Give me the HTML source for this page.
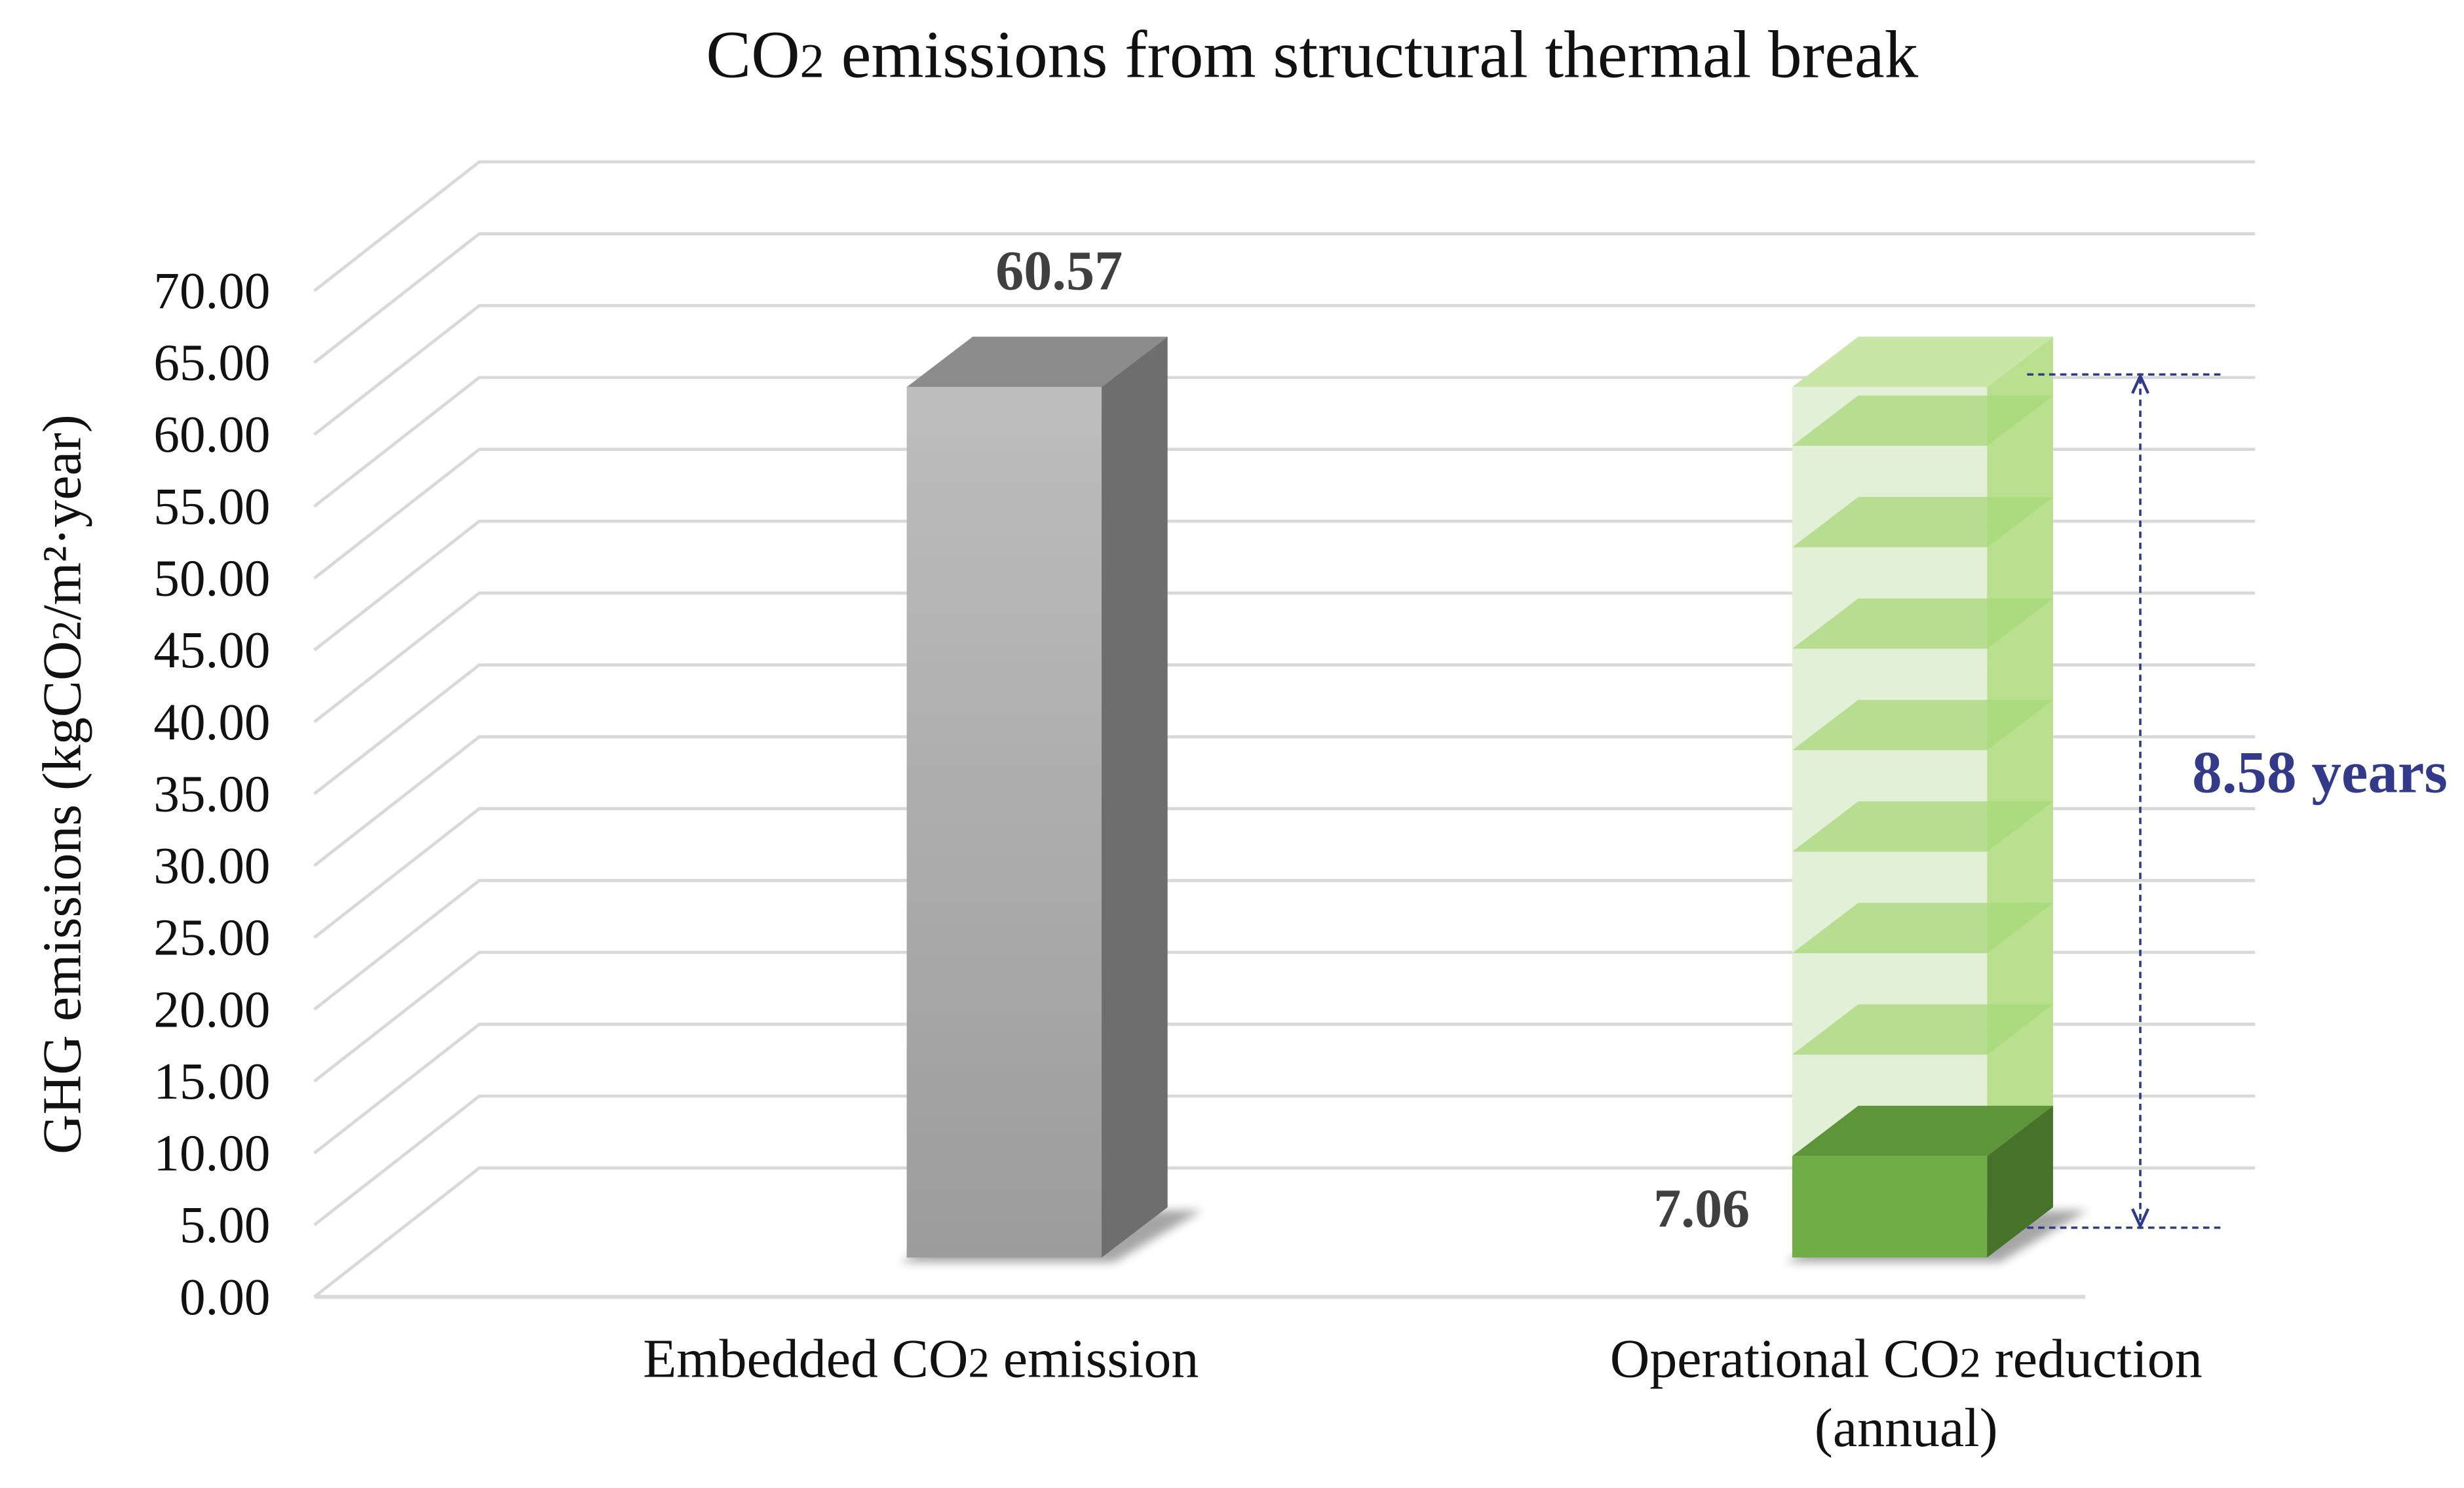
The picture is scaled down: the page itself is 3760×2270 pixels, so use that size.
<!DOCTYPE html>
<html><head><meta charset="utf-8">
<style>
html,body{margin:0;padding:0;background:#fff;}
svg{display:block;}
text{font-family:"Liberation Serif","DejaVu Serif",serif;}
</style></head>
<body>
<svg id="chart" width="3760" height="2270" viewBox="0 0 1568 946.6" preserveAspectRatio="none" xmlns="http://www.w3.org/2000/svg">
  <text x="835" y="49" font-size="43" text-anchor="middle" fill="#111">CO<tspan font-size="31">2</tspan> emissions from structural thermal break</text>
  <g id="grid"></g>
  <g id="ticks"></g>
  <text transform="translate(51,499) rotate(-90)" font-size="35" text-anchor="middle" fill="#111">GHG emissions (kgCO<tspan font-size="26">2</tspan>/m²·year)</text>
  <g id="bars"></g>
  <g id="cats"></g>
  <g id="annot"></g>
</svg>
<script>
const categories = ["Embedded CO2 emission", "Operational CO2 reduction"];
const values = [60.57, 7.06];
const tickValues = [0,5,10,15,20,25,30,35,40,45,50,55,60,65,70];
const tickLabels = ["0.00","5.00","10.00","15.00","20.00","25.00","30.00","35.00","40.00","45.00","50.00","55.00","60.00","65.00","70.00"];
const paybackLabel = "8.58 years";

const NS = "http://www.w3.org/2000/svg";
const K = 9.143;
const frontZero = 825, barZero = 800;
const DX = 105, DY = -82;
const SX = 42, SY = -32;
const x0 = 200, band = 563.5, barW = 124;
function yFront(v){ return frontZero - v*K; }
function yBar(v){ return barZero - v*K; }
function xBar(i){ return x0 + i*band + 377; }
function mk(tag, attrs, parent){ const e=document.createElementNS(NS,tag); for(const k in attrs) e.setAttribute(k,attrs[k]); parent.appendChild(e); return e; }

const grid=document.getElementById('grid'), ticks=document.getElementById('ticks');
tickValues.forEach((v,i)=>{
  const yf=yFront(v), yb=yf+DY;
  const l = mk('polyline',{points:`${x0},${yf} ${x0+DX},${yb} 1435,${yb}`,fill:'none',stroke:'#d9d9d9','stroke-width':2},grid);
  
  
  const t = mk('text',{x:172,y:yf+11,'font-size':33,'text-anchor':'end',fill:'#111'},ticks);
  t.textContent = tickLabels[i];
  
  
});
const floor = mk('line',{x1:x0,y1:frontZero,x2:1327,y2:frontZero,stroke:'#d9d9d9','stroke-width':2.5},grid);



const bars=document.getElementById('bars');
function box(i,v0,v1,front,side,top,parent,name){
  const x=xBar(i), yt=yBar(v1), yb=yBar(v0);
  const g=mk('g',{},parent);
  
  
  mk('rect',{x:x,y:yt,width:barW,height:yb-yt,fill:front},g);
  mk('polygon',{points:`${x+barW},${yt} ${x+barW+SX},${yt+SY} ${x+barW+SX},${yb+SY} ${x+barW},${yb}`,fill:side},g);
  mk('polygon',{points:`${x},${yt} ${x+SX},${yt+SY} ${x+barW+SX},${yt+SY} ${x+barW},${yt}`,fill:top},g);
  return g;
}
[0,1].forEach(i=>{
  const x=xBar(i);
  const s=mk('polygon',{points:`${x-4},${barZero+3} ${x+barW+8},${barZero+3} ${x+barW+SX+22},${barZero+SY+2} ${x+SX+10},${barZero+SY+2}`,fill:'#000',opacity:0.35,filter:'url(#blur)'},bars);
  
  
});
const defs=mk('defs',{},bars);
const bl=mk('filter',{id:'blur',x:'-20%',y:'-50%',width:'140%',height:'200%'},defs);
mk('feGaussianBlur',{stdDeviation:3},bl);
const gr=mk('linearGradient',{id:'gg',x1:0,y1:0,x2:0,y2:1},defs);
mk('stop',{offset:0,'stop-color':'#bdbdbd'},gr); mk('stop',{offset:1,'stop-color':'#9c9c9c'},gr);
box(0,0,values[0],'url(#gg)','#6e6e6e','#8c8c8c',bars,'bar-embedded');
const years = values[0]/values[1];
const ghost=mk('g',{},bars);


box(1,values[1],values[0],'#e3f0d8','#b9e08e','#c9e6a6',ghost,'ghost-segment');
for(let j=2;j<=Math.floor(years);j++){
  const v=values[1]*j, x=xBar(1), y=yBar(v);
  const p=mk('polygon',{points:`${x},${y} ${x+SX},${y+SY} ${x+barW+SX},${y+SY} ${x+barW},${y}`,fill:'#a8d878',opacity:0.75},ghost);
  
  
}
box(1,0,values[1],'#70ad47','#46722a','#5f953a',bars,'bar-operational');

const v0=mk('text',{x:xBar(0)+barW/2+35,y:yBar(values[0])+SY-30,'font-size':36,'font-weight':'bold','text-anchor':'middle',fill:'#404040'},bars);
v0.textContent=values[0].toFixed(2);


const v1=mk('text',{x:xBar(1)-27,y:yBar(values[1])+45,'font-size':35,'font-weight':'bold','text-anchor':'end',fill:'#404040'},bars);
v1.textContent=values[1].toFixed(2);



const cats=document.getElementById('cats');
[[586,876,'Embedded CO<tspan font-size="27">2</tspan> emission'],[1213,876,'Operational CO<tspan font-size="27">2</tspan> reduction'],[1213,920,'(annual)']].forEach((c,i)=>{
  const t=mk('text',{x:c[0],y:c[1],'font-size':35,'text-anchor':'middle',fill:'#111'},cats);
  t.innerHTML=c[2];
  
  
});

const an=document.getElementById('annot');
const yTop=yBar(values[0])-8, yBot=yBar(0)-19, ax=1362;
mk('line',{x1:1290,y1:yTop,x2:1415,y2:yTop,stroke:'#2e3a87','stroke-width':1.5,'stroke-dasharray':'4,3'},an);
mk('line',{x1:1290,y1:yBot,x2:1415,y2:yBot,stroke:'#2e3a87','stroke-width':1.5,'stroke-dasharray':'4,3'},an);
mk('line',{x1:ax,y1:yTop+2,x2:ax,y2:yBot-2,stroke:'#2e3a87','stroke-width':1.5,'stroke-dasharray':'4,3'},an);
mk('polyline',{points:`${ax-5},${yTop+12} ${ax},${yTop+1} ${ax+5},${yTop+12}`,fill:'none',stroke:'#2e3a87','stroke-width':1.8},an);
mk('polyline',{points:`${ax-5},${yBot-12} ${ax},${yBot-1} ${ax+5},${yBot-12}`,fill:'none',stroke:'#2e3a87','stroke-width':1.8},an);
const yl=mk('text',{x:1395,y:504,'font-size':38,'font-weight':'bold',fill:'#333a8a'},an);
yl.textContent=paybackLabel;


</script>
</body></html>
